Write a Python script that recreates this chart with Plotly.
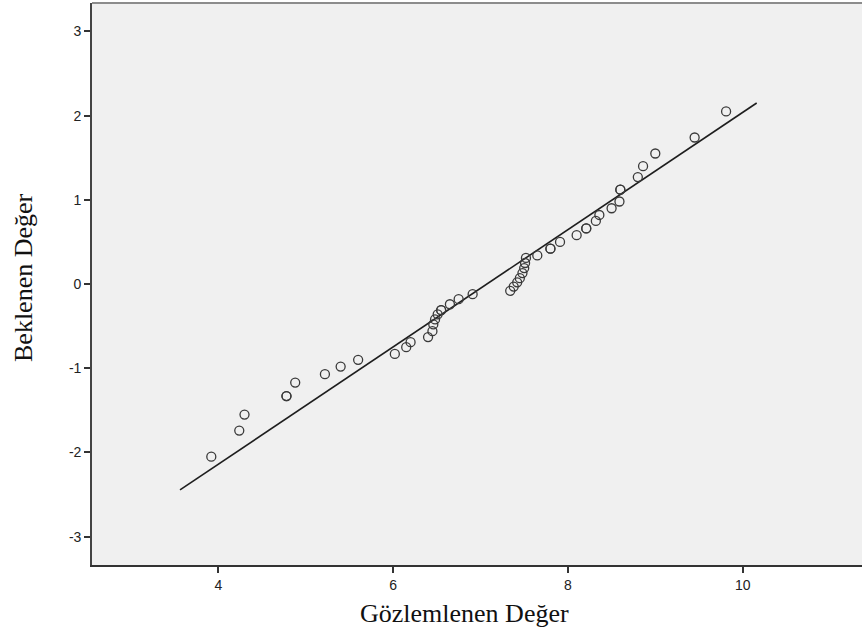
import plotly.graph_objects as go

observed = [3.92, 4.24, 4.30, 4.78, 4.78, 4.88, 5.22, 5.40, 5.60, 6.02, 6.15, 6.20,
            6.40, 6.45, 6.46, 6.48, 6.51, 6.55, 6.55, 6.65, 6.75, 6.91, 7.34, 7.38,
            7.42, 7.45, 7.48, 7.50, 7.51, 7.52, 7.65, 7.80, 7.80, 7.91, 8.10, 8.21,
            8.21, 8.32, 8.36, 8.50, 8.59, 8.60, 8.60, 8.80, 8.86, 9.00, 9.45, 9.81]
expected = [-2.05, -1.74, -1.55, -1.33, -1.33, -1.17, -1.07, -0.98, -0.90, -0.83, -0.75, -0.69,
            -0.63, -0.56, -0.48, -0.42, -0.36, -0.31, -0.31, -0.24, -0.18, -0.12, -0.08, -0.03,
            0.02, 0.07, 0.13, 0.19, 0.25, 0.31, 0.34, 0.42, 0.42, 0.50, 0.58, 0.66,
            0.66, 0.75, 0.82, 0.90, 0.98, 1.12, 1.12, 1.27, 1.40, 1.55, 1.74, 2.05]

# Reference normal line: y = (x - mean) / sd
fit_mean = 7.073
fit_sd = 1.436
line_x = [3.562, 10.16]
line_y = [(v - fit_mean) / fit_sd for v in line_x]

x_ticks = [4, 6, 8, 10]
x_tick_labels = ["4", "6", "8", "10"]
y_ticks = [-3, -2, -1, 0, 1, 2, 3]
y_tick_labels = ["-3", "-2", "-1", "0", "1", "2", "3"]

x_title = "Gözlemlenen Değer"
y_title = "Beklenen Değer"

fig = go.Figure()
fig.add_trace(go.Scatter(x=line_x, y=line_y, mode="lines",
                         line=dict(color="#1e1e1e", width=1.6),
                         hoverinfo="skip", showlegend=False))
fig.add_trace(go.Scatter(x=observed, y=expected, mode="markers",
                         marker=dict(symbol="circle-open", size=9,
                                     color="#3a3a3a", line=dict(width=1.3, color="#3a3a3a")),
                         showlegend=False))

tick_font = dict(family="Liberation Sans, Arial, sans-serif", size=14, color="#222")
title_font = dict(family="Liberation Serif, Times New Roman, serif", size=26, color="#111")

fig.update_layout(
    width=862, height=633,
    margin=dict(l=92, r=0, t=3, b=68),
    paper_bgcolor="white",
    plot_bgcolor="#f0f0f0",
    xaxis=dict(range=[2.555, 11.365], tickvals=x_ticks, ticktext=x_tick_labels,
               showline=True, linecolor="#333", linewidth=1.6, ticks="outside",
               ticklen=6, tickwidth=1.6, tickcolor="#333", showgrid=False, zeroline=False,
               tickfont=tick_font),
    yaxis=dict(range=[-3.336, 3.337], tickvals=y_ticks, ticktext=y_tick_labels,
               showline=True, linecolor="#444", linewidth=1.6, ticks="outside",
               ticklen=6, tickwidth=1.6, tickcolor="#333", showgrid=False, zeroline=False,
               tickfont=tick_font),
    shapes=[dict(type="line", xref="paper", yref="paper", x0=0, x1=1, y0=1, y1=1,
                 line=dict(color="#8c8c8c", width=2))],
    annotations=[
        dict(text=x_title, xref="paper", yref="paper", x=(464 - 92) / 770, y=(565 - 613) / 562,
             xanchor="center", yanchor="middle", showarrow=False, font=title_font),
        dict(text=y_title, xref="paper", yref="paper", x=(23 - 92) / 770, y=(565 - 278) / 562,
             xanchor="center", yanchor="middle", textangle=-90, showarrow=False, font=title_font),
    ],
)

fig.write_html("out.html")
